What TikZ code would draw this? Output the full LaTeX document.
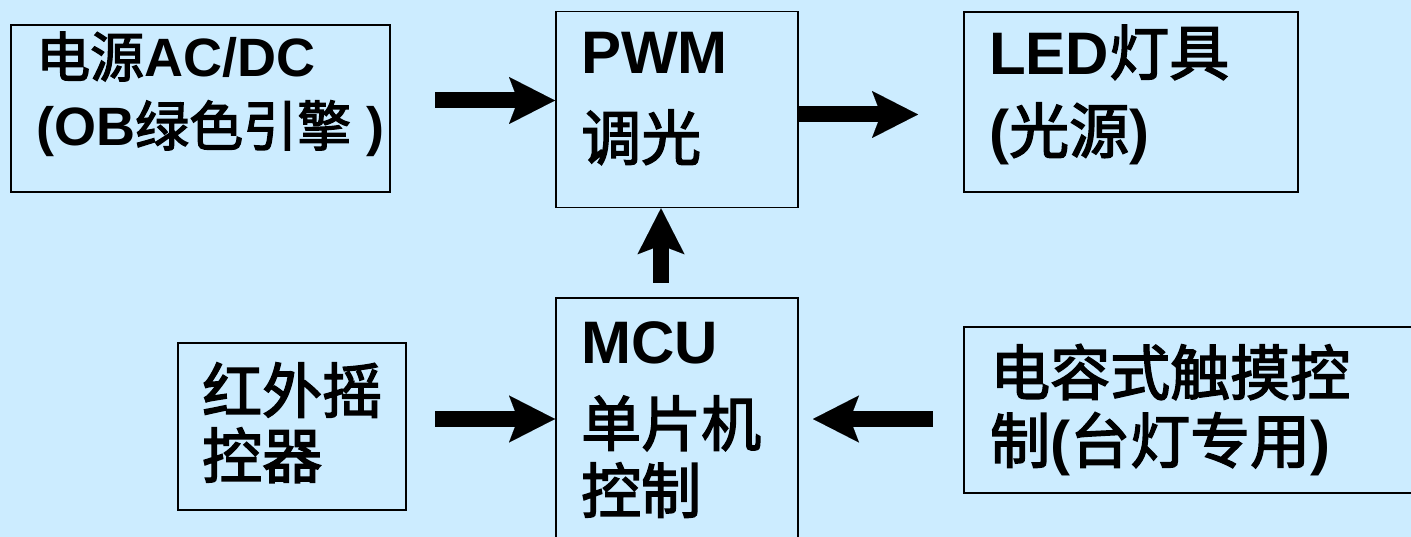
\documentclass[tikz,border=0pt]{standalone}
\usepackage{fontspec}
\setmainfont{Liberation Sans}
\newfontfamily\cjk{Noto Sans CJK SC}[BoldFont={Noto Sans CJK SC}, BoldFeatures={FakeBold=2.5}]
\usetikzlibrary{arrows.meta}
\definecolor{bg}{HTML}{CCECFF}
\begin{document}
\begin{tikzpicture}[x=1pt,y=-1pt,
  box/.style={draw=black, line width=1.6pt, fill=bg, inner sep=0pt, anchor=north west},
  lbl/.style={anchor=base west, inner sep=0pt, font=\fontsize{60}{67}\selectfont\bfseries},
  lblsm/.style={anchor=base west, inner sep=0pt, font=\fontsize{54}{60}\selectfont\bfseries},
  arr/.style={line width=16pt, -{Stealth[length=46pt,width=47pt,inset=9pt,line width=0.01pt]}}]
\useasboundingbox[fill=bg] (0,0) rectangle (1411,537);
% boxes
\node[box, minimum width=379pt, minimum height=167pt] (b1) at (10,24) {};
\node[box, minimum width=242pt, minimum height=196pt] (pwm) at (555,10.7) {};
\node[box, minimum width=334pt, minimum height=180pt] (led) at (963,11) {};
\node[box, minimum width=242pt, minimum height=270pt] (mcu) at (555,297) {};
\node[box, minimum width=228pt, minimum height=167pt] (ir) at (177,342) {};
\node[box, minimum width=470pt, minimum height=166pt] (touch) at (963,326) {};
% texts
\node[lblsm] (b1a) at (36,77) {{\cjk 电源}AC/DC};
\node[lblsm] (b1b) at (36,146) {(OB{\cjk 绿色引擎} )};
\node[lbl] (pwma) at (581,74) {PWM};
\node[lbl] (pwmb) at (581,160) {\cjk 调光};
\node[lbl] (leda) at (989,75) {LED{\cjk 灯具}};
\node[lbl] (ledb) at (989,153) {({\cjk 光源})};
\node[lbl] (mcua) at (581,363) {MCU};
\node[lbl] (mcub) at (581,446) {\cjk 单片机};
\node[lbl] (mcuc) at (581,513) {\cjk 控制};
\node[lbl] (ira) at (202,413) {\cjk 红外摇};
\node[lbl] (irb) at (202,478) {\cjk 控器};
\node[lbl] (ta) at (990,395) {\cjk 电容式触摸控};
\node[lbl] (tb) at (990,463) {{\cjk 制}({\cjk 台灯专用})};
% connectors
\coordinate (a1s) at (435,100.5);
\draw[arr] (a1s) -- (a1s -| pwm.west);
\coordinate (a2e) at (918,114.5);
\draw[arr] (a2e -| pwm.east) -- (a2e);
\coordinate (a3s) at (435,419);
\draw[arr] (a3s) -- (a3s -| mcu.west);
\coordinate (a4s) at (661,283);
\draw[arr] (a4s) -- (a4s |- pwm.south);
\coordinate (a5s) at (933,419);
\coordinate (a5e) at (813,419);
\draw[arr] (a5s) -- (a5e);
\end{tikzpicture}
\end{document}
